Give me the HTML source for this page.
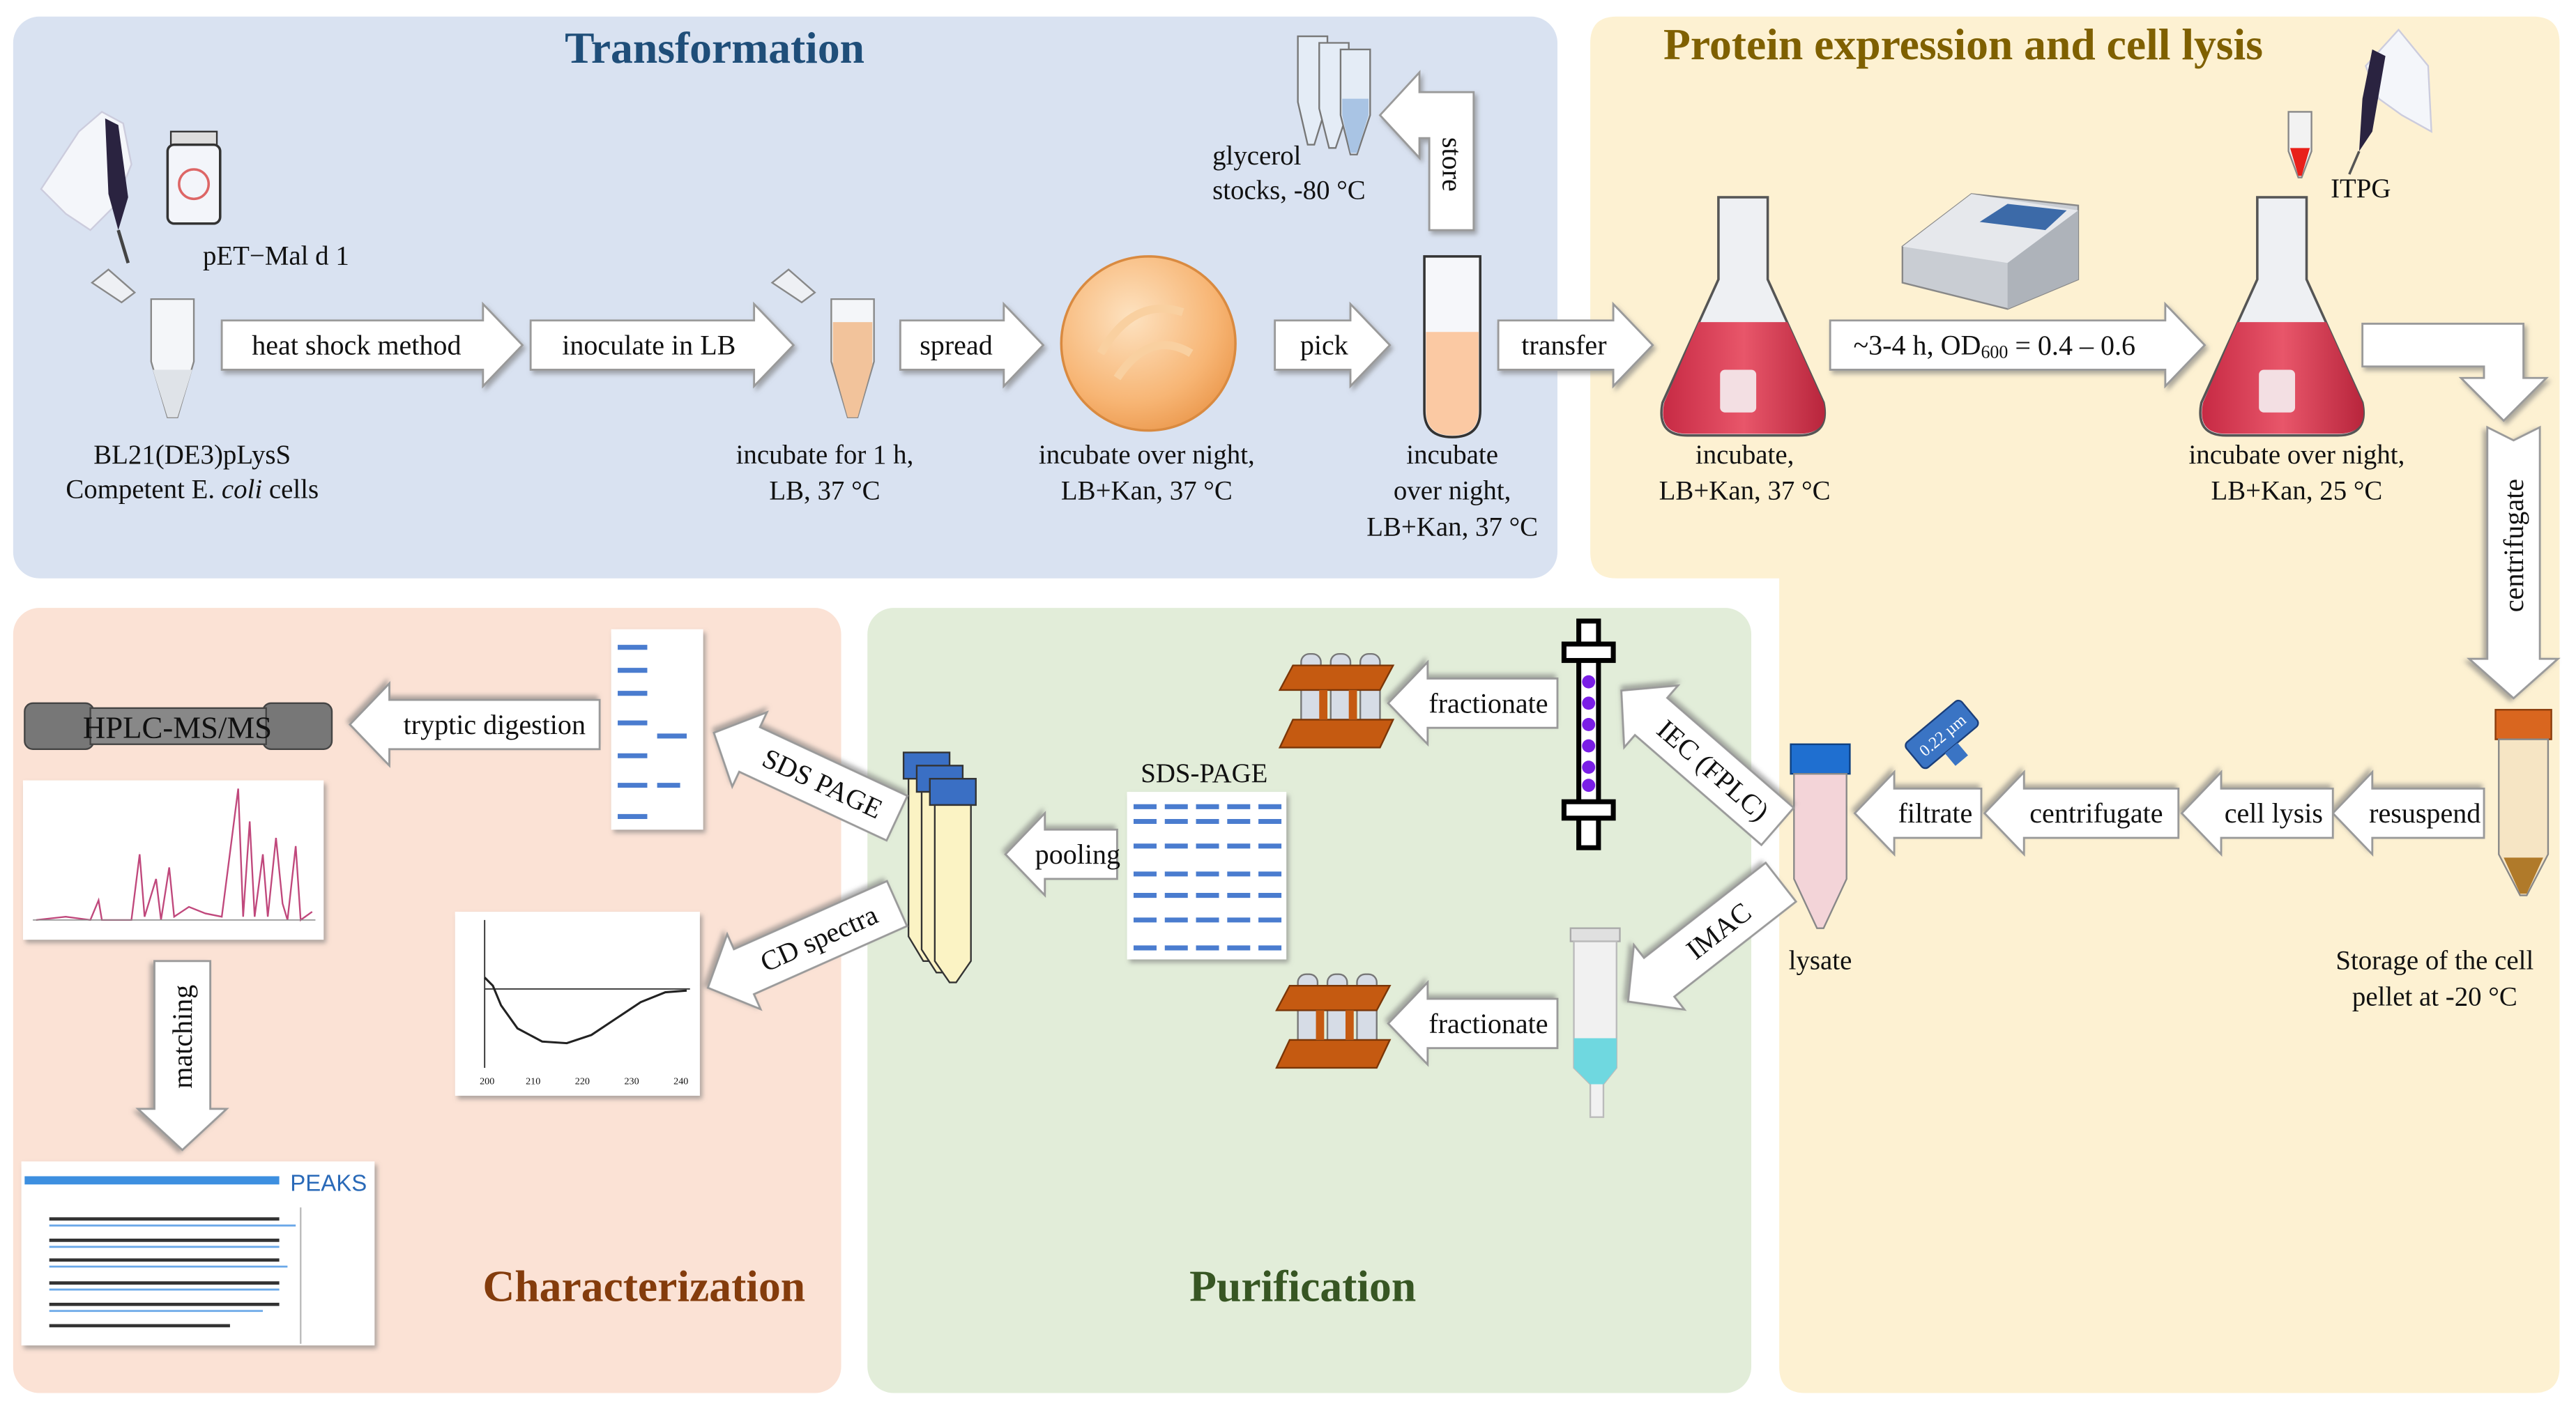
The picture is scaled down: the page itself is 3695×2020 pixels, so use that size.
<!DOCTYPE html>
<html><head><meta charset="utf-8">
<style>
html,body{margin:0;padding:0;background:#fff;}
svg{display:block;}
text{font-family:"Liberation Serif",serif;fill:#111;}
.a{fill:#fff;stroke:#9a9a9a;stroke-width:1.2;filter:url(#sh);}
.t{font-size:17px;text-anchor:middle;dominant-baseline:central;}
.l{font-size:16.5px;text-anchor:middle;}
.h{font-size:27px;font-weight:bold;text-anchor:middle;}
</style></head>
<body>
<svg width="3695" height="2020" viewBox="0 0 1568 857" xmlns="http://www.w3.org/2000/svg">
<defs>
<filter id="sh" x="-20%" y="-40%" width="140%" height="180%"><feDropShadow dx="1.5" dy="2" stdDeviation="1.5" flood-color="#777" flood-opacity="0.6"/></filter>
<radialGradient id="pd" cx="40%" cy="35%" r="70%"><stop offset="0" stop-color="#fde2c0"/><stop offset="0.7" stop-color="#f7b574"/><stop offset="1" stop-color="#ec9a4f"/></radialGradient>
<linearGradient id="fl" x1="0" x2="1"><stop offset="0" stop-color="#c72a44"/><stop offset="0.5" stop-color="#e8566a"/><stop offset="1" stop-color="#b8253c"/></linearGradient>
</defs>
<rect width="1568" height="857" fill="#fff"/>
<!-- panels -->
<rect x="8" y="10" width="940" height="342" rx="16" fill="#d9e2f1"/>
<path d="M984,10 H1542 Q1558,10 1558,26 V832 Q1558,848 1542,848 H1099 Q1083,848 1083,832 V352 H984 Q968,352 968,336 V26 Q968,10 984,10 Z" fill="#fdf1d2"/>
<rect x="8" y="370" width="504" height="478" rx="16" fill="#fbe2d5"/>
<rect x="528" y="370" width="538" height="478" rx="16" fill="#e2edd9"/>

<!-- titles -->
<text class="h" x="435" y="38" style="fill:#1f4e79">Transformation</text>
<text class="h" x="1195" y="36" style="fill:#7f6000">Protein expression and cell lysis</text>
<text class="h" x="392" y="792" style="fill:#843c0c">Characterization</text>
<text class="h" x="793" y="792" style="fill:#375623">Purification</text>

<!-- ===== Transformation icons ===== -->
<!-- hand + pipette -->
<path d="M25,115 L48,80 L62,68 L75,75 L80,100 L70,125 L55,140 L40,130 Z" fill="#f4f6fa" stroke="#ccd" stroke-width="1"/>
<path d="M64,72 L72,76 L78,120 L72,140 L66,118 Z" fill="#2a2340"/>
<line x1="72" y1="140" x2="78" y2="160" stroke="#444" stroke-width="2"/>
<!-- vial -->
<rect x="104" y="80" width="28" height="8" fill="#ddd" stroke="#333"/>
<rect x="102" y="88" width="32" height="48" rx="4" fill="#f3f5fa" stroke="#333" stroke-width="1.5"/>
<circle cx="118" cy="112" r="9" fill="none" stroke="#d66" stroke-width="1.5"/>
<text class="l" x="168" y="161" style="text-anchor:middle">pET−Mal d 1</text>
<!-- eppendorf -->
<path d="M56,172 L66,164 L82,178 L74,184 Z" fill="#eef0f4" stroke="#888"/>
<path d="M92,182 H118 V220 L108,254 H102 L92,220 Z" fill="#f4f6f9" stroke="#888"/>
<path d="M93,225 H117 L108,254 H102 Z" fill="#dfe3e8"/>
<text class="l" x="117" y="282">BL21(DE3)pLysS</text>
<text class="l" x="117" y="303">Competent E. <tspan font-style="italic">coli</tspan> cells</text>
<!-- tube 2 -->
<path d="M470,172 L480,164 L496,178 L488,184 Z" fill="#eef0f4" stroke="#888"/>
<path d="M506,182 H532 V220 L522,254 H516 L506,220 Z" fill="#f4f6f9" stroke="#888"/>
<path d="M507,196 H531 V222 L522,254 H516 L507,222 Z" fill="#f2c39b"/>
<text class="l" x="502" y="282">incubate for 1 h,</text>
<text class="l" x="502" y="304">LB, 37 °C</text>
<!-- petri -->
<circle cx="699" cy="209" r="53" fill="url(#pd)" stroke="#d98a40" stroke-width="1.5"/>
<path d="M670,215 Q690,180 720,190 M680,230 Q700,200 725,215" stroke="#f9d0a0" stroke-width="5" fill="none"/>
<text class="l" x="698" y="282">incubate over night,</text>
<text class="l" x="698" y="304">LB+Kan, 37 °C</text>
<!-- test tube -->
<path d="M867,156 H901 V250 Q901,266 884,266 Q867,266 867,250 Z" fill="#f6f7fa" stroke="#333" stroke-width="1.5"/>
<path d="M868,202 H900 V250 Q900,265 884,265 Q868,265 868,250 Z" fill="#fbc9a3"/>
<text class="l" x="884" y="282">incubate</text>
<text class="l" x="884" y="304">over night,</text>
<text class="l" x="884" y="326">LB+Kan, 37 °C</text>
<!-- glycerol -->
<g fill="#e4ecf6" stroke="#777">
<path d="M790,22 H808 V62 L800,88 L796,88 L790,62Z"/>
<path d="M803,26 H821 V66 L813,90 L809,90 L803,66Z"/>
<path d="M816,30 H834 V70 L826,94 L822,94 L816,70Z"/>
</g>
<path d="M817,60 H833 V70 L826,93 L822,93 L817,70Z" fill="#a9c4e4"/>
<text class="l" x="738" y="100" style="text-anchor:start">glycerol</text>
<text class="l" x="738" y="121" style="text-anchor:start">stocks, -80 °C</text>

<!-- ===== Protein expression icons ===== -->
<g>
<path d="M1046,120 H1076 V170 L1110,245 Q1114,265 1095,265 H1027 Q1008,265 1012,245 L1046,170 Z" fill="#eef0f3" stroke="#555" stroke-width="1.5"/>
<path d="M1034,196 H1088 L1110,245 Q1114,264 1095,264 H1027 Q1009,264 1013,245 Z" fill="url(#fl)"/>
<rect x="1047" y="225" width="22" height="26" rx="3" fill="#f3dfe3"/>
</g>
<text class="l" x="1062" y="282">incubate,</text>
<text class="l" x="1062" y="304">LB+Kan, 37 °C</text>
<g transform="translate(328,0)">
<path d="M1046,120 H1076 V170 L1110,245 Q1114,265 1095,265 H1027 Q1008,265 1012,245 L1046,170 Z" fill="#eef0f3" stroke="#555" stroke-width="1.5"/>
<path d="M1034,196 H1088 L1110,245 Q1114,264 1095,264 H1027 Q1009,264 1013,245 Z" fill="url(#fl)"/>
<rect x="1047" y="225" width="22" height="26" rx="3" fill="#f3dfe3"/>
</g>
<text class="l" x="1398" y="282">incubate over night,</text>
<text class="l" x="1398" y="304">LB+Kan, 25 °C</text>
<!-- spectrophotometer -->
<path d="M1158,150 L1200,118 L1265,125 L1265,170 L1222,188 L1158,172 Z" fill="#c9cdd3" stroke="#888"/>
<path d="M1158,150 L1222,160 L1265,128 L1200,118 Z" fill="#e6e8ec"/>
<path d="M1205,135 L1245,140 L1258,128 L1222,124 Z" fill="#3c6aa8"/>
<path d="M1222,160 L1222,188 L1265,170 L1265,128 Z" fill="#aeb3ba"/>
<!-- ITPG -->
<path d="M1393,68 H1407 V92 L1401,108 L1399,108 L1393,92 Z" fill="#f2f2f2" stroke="#888"/>
<path d="M1394,90 H1406 L1401,107 L1399,107 Z" fill="#e8201a"/>
<path d="M1440,40 L1460,18 L1478,40 L1480,80 L1462,70 L1448,60 Z" fill="#f4f6fa" stroke="#ccd"/>
<path d="M1444,30 L1452,34 L1444,80 L1436,92 L1438,60 Z" fill="#2a2340"/>
<line x1="1436" y1="92" x2="1430" y2="106" stroke="#555" stroke-width="1.5"/>
<text class="l" x="1437" y="120">ITPG</text>
<!-- pellet tube -->
<rect x="1519" y="432" width="34" height="18" fill="#d9661f" stroke="#8a3c0c"/>
<path d="M1521,450 H1551 V520 L1538,545 H1534 L1521,520 Z" fill="#f6e5c4" stroke="#888"/>
<path d="M1524,522 H1548 L1538,544 H1534 Z" fill="#b07a2a"/>
<text class="l" x="1482" y="590">Storage of the cell</text>
<text class="l" x="1482" y="612">pellet at  -20 °C</text>
<!-- lysate -->
<rect x="1090" y="453" width="36" height="18" fill="#1f6fd0" stroke="#0d3f80"/>
<path d="M1092,471 H1124 V535 L1110,565 H1106 L1092,535 Z" fill="#f3d4d8" stroke="#888"/>
<text class="l" x="1108" y="590">lysate</text>
<!-- filter -->
<g transform="rotate(-40 1182 447)">
<rect x="1160" y="437" width="44" height="20" rx="3" fill="#3a74c4" stroke="#1a3e7a"/>
<rect x="1176" y="457" width="10" height="10" fill="#3a74c4"/>
<text x="1182" y="451" style="font-size:10px;text-anchor:middle;fill:#fff">0.22 µm</text>
</g>

<!-- ===== Purification ===== -->
<!-- IEC column -->
<rect x="961" y="378" width="12" height="138" fill="#fff" stroke="#000" stroke-width="3"/>
<rect x="952" y="392" width="30" height="10" fill="#fff" stroke="#000" stroke-width="3"/>
<rect x="952" y="488" width="30" height="10" fill="#fff" stroke="#000" stroke-width="3"/>
<g fill="#7a1ee6"><circle cx="967" cy="415" r="4"/><circle cx="967" cy="428" r="4"/><circle cx="967" cy="441" r="4"/><circle cx="967" cy="454" r="4"/><circle cx="967" cy="467" r="4"/><circle cx="967" cy="478" r="4"/></g>
<!-- IMAC column -->
<rect x="956" y="565" width="30" height="8" fill="#e0e0e0" stroke="#aaa"/>
<path d="M958,573 H984 V650 L976,660 V680 H968 V660 L958,650 Z" fill="#f1f1f1" stroke="#bbb"/>
<path d="M958,632 H984 V650 L976,660 H968 L958,650 Z" fill="#6fd8e0"/>
<!-- racks -->
<g id="rack">
<g fill="#d6dce6" stroke="#777"><rect x="792" y="398" width="12" height="55" rx="5"/><rect x="810" y="398" width="12" height="55" rx="5"/><rect x="828" y="398" width="12" height="55" rx="5"/></g>
<path d="M787,405 H848 L840,420 H779 Z" fill="#c55a11" stroke="#7a3608"/>
<path d="M787,438 H848 L840,455 H779 Z" fill="#c55a11" stroke="#7a3608"/>
<rect x="803" y="420" width="5" height="18" fill="#c55a11"/><rect x="821" y="420" width="5" height="18" fill="#c55a11"/>
</g>
<use href="#rack" transform="translate(-2,195)"/>
<!-- SDS-PAGE gel -->
<text class="l" x="733" y="476">SDS-PAGE</text>
<rect x="686" y="482" width="97" height="102" fill="#fff" filter="url(#sh)"/>
<g stroke="#4a7ccf" stroke-width="3">
<path d="M690,491h14M709,491h14M728,491h14M747,491h14M766,491h14"/>
<path d="M690,500h14M709,500h14M728,500h14M747,500h14M766,500h14"/>
<path d="M690,515h14M709,515h14M728,515h14M747,515h14M766,515h14"/>
<path d="M690,532h14M709,532h14M728,532h14M747,532h14M766,532h14"/>
<path d="M690,545h14M709,545h14M728,545h14M747,545h14M766,545h14"/>
<path d="M690,560h14M709,560h14M728,560h14M747,560h14M766,560h14"/>
<path d="M690,577h14M709,577h14M728,577h14M747,577h14M766,577h14"/>
</g>
<!-- falcon stack -->
<g stroke="#333" stroke-width="1">
<rect x="550" y="458" width="28" height="16" fill="#3a6fc4"/>
<path d="M553,474 H575 V570 L566,585 H562 L553,570 Z" fill="#fbf3c4"/>
<rect x="558" y="466" width="28" height="16" fill="#3a6fc4"/>
<path d="M561,482 H583 V578 L574,592 H570 L561,578 Z" fill="#fbf3c4"/>
<rect x="566" y="474" width="28" height="16" fill="#3a6fc4"/>
<path d="M569,490 H591 V585 L582,598 H578 L569,585 Z" fill="#fbf3c4"/>
</g>

<!-- ===== Characterization ===== -->
<rect x="372" y="383" width="56" height="122" fill="#fff" filter="url(#sh)"/>
<g stroke="#4a7ccf" stroke-width="3"><path d="M376,394h18M376,408h18M376,422h18M376,440h18M376,460h18M376,478h18M376,497h18M400,448h18M400,478h14"/></g>
<rect x="15" y="428" width="42" height="28" rx="5" fill="#777" stroke="#444"/>
<rect x="160" y="428" width="42" height="28" rx="5" fill="#777" stroke="#444"/>
<rect x="55" y="431" width="107" height="22" fill="#888" stroke="#444"/>
<text x="108" y="449" style="font-size:19px;text-anchor:middle">HPLC-MS/MS</text>
<!-- chromatogram -->
<rect x="14" y="475" width="183" height="97" fill="#fff" filter="url(#sh)"/>
<polyline fill="none" stroke="#c0487c" stroke-width="1" points="22,560 40,558 55,560 60,548 62,560 80,560 85,520 88,558 95,535 98,560 103,528 106,558 115,552 125,556 135,558 145,480 148,558 152,500 155,558 160,520 163,558 168,510 172,550 175,560 180,515 183,560 190,555"/>
<line x1="20" y1="560" x2="192" y2="560" stroke="#888" stroke-width="0.6"/>
<!-- CD -->
<rect x="277" y="555" width="149" height="112" fill="#fff" filter="url(#sh)"/>
<line x1="295" y1="560" x2="295" y2="650" stroke="#333" stroke-width="0.8"/>
<line x1="295" y1="602" x2="420" y2="602" stroke="#333" stroke-width="0.8"/>
<polyline fill="none" stroke="#222" stroke-width="1.3" points="295,595 300,600 305,612 315,626 330,634 345,635 360,630 375,620 390,610 405,604 418,603"/>
<g style="font-size:6px;fill:#333"><text x="292" y="660">200</text><text x="320" y="660">210</text><text x="350" y="660">220</text><text x="380" y="660">230</text><text x="410" y="660">240</text></g>
<!-- PEAKS -->
<rect x="13" y="707" width="215" height="112" fill="#fff" filter="url(#sh)"/>
<rect x="15" y="716" width="155" height="5" fill="#3d8fe0"/>
<text x="200" y="725" style="font-size:14px;text-anchor:middle;fill:#2a6ab8;font-family:'Liberation Sans',sans-serif">PEAKS</text>
<g stroke="#333" stroke-width="2"><path d="M30,742h140M30,755h140M30,767h140M30,781h140M30,794h140M30,807h110"/></g>
<g stroke="#6aa8e8" stroke-width="1.2"><path d="M30,746h150M30,759h140M30,771h145M30,785h140M30,798h130"/></g>
<line x1="183" y1="735" x2="183" y2="818" stroke="#bbb"/>

<!-- ===== ARROWS ===== -->
<g class="arw">
<!-- right-pointing top row -->
<g transform="translate(135,210)"><polygon class="a" points="0,-15 159,-15 159,-25 183,0 159,25 159,15 0,15"/><text class="t" x="82">heat shock method</text></g>
<g transform="translate(323,210)"><polygon class="a" points="0,-15 136,-15 136,-25 160,0 136,25 136,15 0,15"/><text class="t" x="72">inoculate in LB</text></g>
<g transform="translate(548,210)"><polygon class="a" points="0,-15 63,-15 63,-25 87,0 63,25 63,15 0,15"/><text class="t" x="34">spread</text></g>
<g transform="translate(776,210)"><polygon class="a" points="0,-15 46,-15 46,-25 70,0 46,25 46,15 0,15"/><text class="t" x="30">pick</text></g>
<g transform="translate(912,210)"><polygon class="a" points="0,-15 70,-15 70,-25 94,0 70,25 70,15 0,15"/><text class="t" x="40">transfer</text></g>
<g transform="translate(1114,210)"><polygon class="a" points="0,-15 204,-15 204,-25 228,0 204,25 204,15 0,15"/><text class="t" x="100">~3-4 h, OD<tspan font-size="11" dy="4">600</tspan><tspan dy="-4"> = 0.4 – 0.6</tspan></text></g>
<!-- bent arrow -->
<polygon class="a" points="1438,197 1536,197 1536,230 1550,230 1524,256 1498,230 1512,230 1512,223 1438,223"/>
<!-- centrifugate vertical -->
<g transform="translate(1530,260) rotate(90)"><polygon class="a" points="0,-16 141,-16 141,-27 165,0 141,27 141,16 0,16 8,0"/><text class="t" x="72" transform="rotate(180 72 0)">centrifugate</text></g>
<!-- store -->
<polygon class="a" points="897,140 870,140 870,84 864,84 864,96 840,70 864,44 864,56 897,56"/>
<text class="t" x="884" y="100" transform="rotate(90 884 100)">store</text>
<!-- bottom row left-pointing -->
<g transform="translate(1512,495) rotate(180)"><polygon class="a" points="0,-15 68,-15 68,-25 92,0 68,25 68,15 0,15"/><text class="t" x="36" transform="rotate(180 36 0)">resuspend</text></g>
<g transform="translate(1420,495) rotate(180)"><polygon class="a" points="0,-15 68,-15 68,-25 92,0 68,25 68,15 0,15"/><text class="t" x="36" transform="rotate(180 36 0)">cell lysis</text></g>
<g transform="translate(1326,495) rotate(180)"><polygon class="a" points="0,-15 94,-15 94,-25 118,0 94,25 94,15 0,15"/><text class="t" x="50" transform="rotate(180 50 0)">centrifugate</text></g>
<g transform="translate(1206,495) rotate(180)"><polygon class="a" points="0,-15 53,-15 53,-25 77,0 53,25 53,15 0,15"/><text class="t" x="28" transform="rotate(180 28 0)">filtrate</text></g>
<!-- IEC / IMAC -->
<g transform="translate(1082,503) rotate(221)"><polygon class="a" points="0,-15 102,-15 102,-25 126,0 102,25 102,15 0,15"/><text class="t" x="52" transform="rotate(180 52 0)">IEC (FPLC)</text></g>
<g transform="translate(1084,537) rotate(142)"><polygon class="a" points="0,-15 94,-15 94,-25 118,0 94,25 94,15 0,15"/><text class="t" x="48" transform="rotate(180 48 0)">IMAC</text></g>
<g transform="translate(948,428) rotate(180)"><polygon class="a" points="0,-15 79,-15 79,-25 103,0 79,25 79,15 0,15"/><text class="t" x="42" transform="rotate(180 42 0)">fractionate</text></g>
<g transform="translate(948,623) rotate(180)"><polygon class="a" points="0,-15 79,-15 79,-25 103,0 79,25 79,15 0,15"/><text class="t" x="42" transform="rotate(180 42 0)">fractionate</text></g>
<g transform="translate(680,520) rotate(180)"><polygon class="a" points="0,-15 44,-15 44,-25 68,0 44,25 44,15 0,15"/><text class="t" x="24" transform="rotate(180 24 0)">pooling</text></g>
<!-- characterization arrows -->
<g transform="translate(546,498) rotate(205)"><polygon class="a" points="0,-15 99,-15 99,-25 123,0 99,25 99,15 0,15"/><text class="t" x="50" transform="rotate(180 50 0)">SDS PAGE</text></g>
<g transform="translate(546,550) rotate(156)"><polygon class="a" points="0,-15 102,-15 102,-25 126,0 102,25 102,15 0,15"/><text class="t" x="52" transform="rotate(180 52 0)">CD spectra</text></g>
<g transform="translate(365,441) rotate(180)"><polygon class="a" points="0,-15 128,-15 128,-25 152,0 128,25 128,15 0,15"/><text class="t" x="64" transform="rotate(180 64 0)">tryptic digestion</text></g>
<g transform="translate(111,585) rotate(90)"><polygon class="a" points="0,-17 90,-17 90,-27 115,0 90,27 90,17 0,17"/><text class="t" x="46" transform="rotate(180 46 0)">matching</text></g>
</g>
</svg>
</body></html>
